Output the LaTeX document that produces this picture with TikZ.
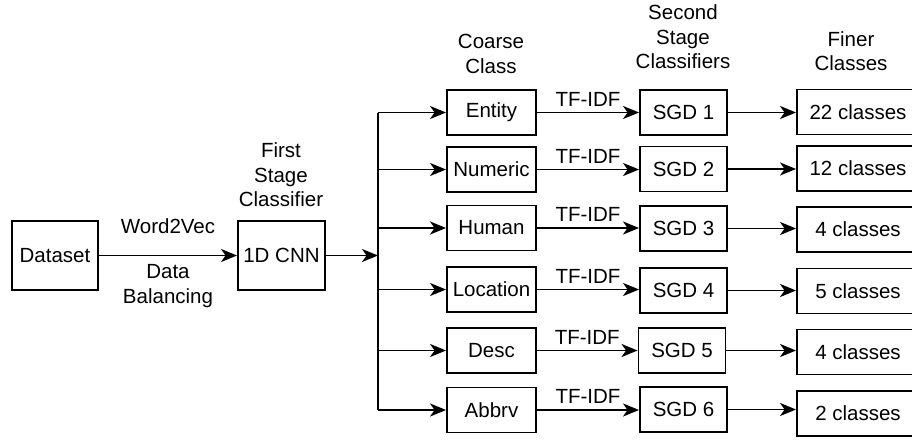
\documentclass[tikz,border=0pt]{standalone}
\usepackage{fontspec}
\setmainfont{Liberation Sans}
\usetikzlibrary{arrows.meta, positioning}

\tikzset{
  box/.style={draw, line width=1.9pt, inner sep=0pt, minimum height=45pt, align=center},
  coarse/.style={box, minimum width=89pt},
  sgdbox/.style={box, minimum width=87pt},
  finebox/.style={box, minimum width=122pt},
  arr/.style={line width=1.9pt, -{Stealth[length=16pt, width=13pt, inset=4.5pt]}},
  head/.style={align=center},
}

\begin{document}
\begin{tikzpicture}[x=1pt, y=-1pt, font=\fontsize{20.5}{24.5}\selectfont]
  \useasboundingbox (0,0) rectangle (912,439);

  % First stage
  \node[box, minimum width=86pt, minimum height=69pt] (dataset) at (55,255.5) {Dataset};
  \node[box, minimum width=87pt, minimum height=69pt] (cnn) at (281.5,255.5) {1D CNN};
  \node[head] (firsthead) at (281,175) {First\\Stage\\Classifier};
  \coordinate (split) at (378,255.5);

  % Coarse classes
  \node[head] (coarsehead) at (491,54) {Coarse\\Class};
  \node[coarse] (entity) at (491.5,112.5) {Entity};
  \node[coarse] (numeric) at (491.5,169.5) {Numeric};
  \node[coarse] (human) at (491.5,228) {Human};
  \node[coarse] (location) at (491.5,289.5) {Location};
  \node[coarse] (desc) at (491.5,350.5) {Desc};
  \node[coarse] (abbrv) at (491.5,410) {Abbrv};

  % Second stage classifiers
  \node[head] (sgdhead) at (683,37) {Second\\Stage\\Classifiers};
  \node[sgdbox] (sgd1) at (683.5,112.5) {SGD 1};
  \node[sgdbox] (sgd2) at (683.5,169) {SGD 2};
  \node[sgdbox] (sgd3) at (683.5,228.5) {SGD 3};
  \node[sgdbox] (sgd4) at (683.5,290.5) {SGD 4};
  \node[sgdbox] (sgd5) at (682,350.5) {SGD 5};
  \node[sgdbox] (sgd6) at (683.5,409.5) {SGD 6};

  % Finer classes
  \node[head] (finehead) at (851,51) {Finer\\Classes};
  \node[finebox] (fine1) at (858,112) {22 classes};
  \node[finebox] (fine2) at (858,168.5) {12 classes};
  \node[finebox] (fine3) at (858,229.5) {4 classes};
  \node[finebox] (fine4) at (858,291) {5 classes};
  \node[finebox] (fine5) at (858,352) {4 classes};
  \node[finebox] (fine6) at (858,413.5) {2 classes};

  % Connectors
  \draw[arr] (dataset) -- node[above=18pt] {Word2Vec} node[below=5pt, align=center] {Data\\Balancing} (cnn);
  \draw[arr] (cnn) -- (split);
  \draw[line width=1.9pt] (split |- entity) -- (split |- abbrv);
  \draw[arr] (split |- entity) -- (entity);
  \draw[arr] (split |- numeric) -- (numeric);
  \draw[arr] (split |- human) -- (human);
  \draw[arr] (split |- location) -- (location);
  \draw[arr] (split |- desc) -- (desc);
  \draw[arr] (split |- abbrv) -- (abbrv);

  \draw[arr] (entity) -- node[above=2pt] {TF-IDF} (entity -| sgd1.west);
  \draw[arr] (numeric) -- node[above=2pt] {TF-IDF} (numeric -| sgd2.west);
  \draw[arr] (human) -- node[above=2pt] {TF-IDF} (human -| sgd3.west);
  \draw[arr] (location) -- node[above=2pt] {TF-IDF} (location -| sgd4.west);
  \draw[arr] (desc) -- node[above=2pt] {TF-IDF} (desc -| sgd5.west);
  \draw[arr] (abbrv) -- node[above=2pt] {TF-IDF} (abbrv -| sgd6.west);

  \draw[arr] (sgd1) -- (sgd1 -| fine1.west);
  \draw[arr] (sgd2) -- (sgd2 -| fine2.west);
  \draw[arr] (sgd3) -- (sgd3 -| fine3.west);
  \draw[arr] (sgd4) -- (sgd4 -| fine4.west);
  \draw[arr] (sgd5) -- (sgd5 -| fine5.west);
  \draw[arr] (sgd6) -- (sgd6 -| fine6.west);
\end{tikzpicture}
\end{document}
